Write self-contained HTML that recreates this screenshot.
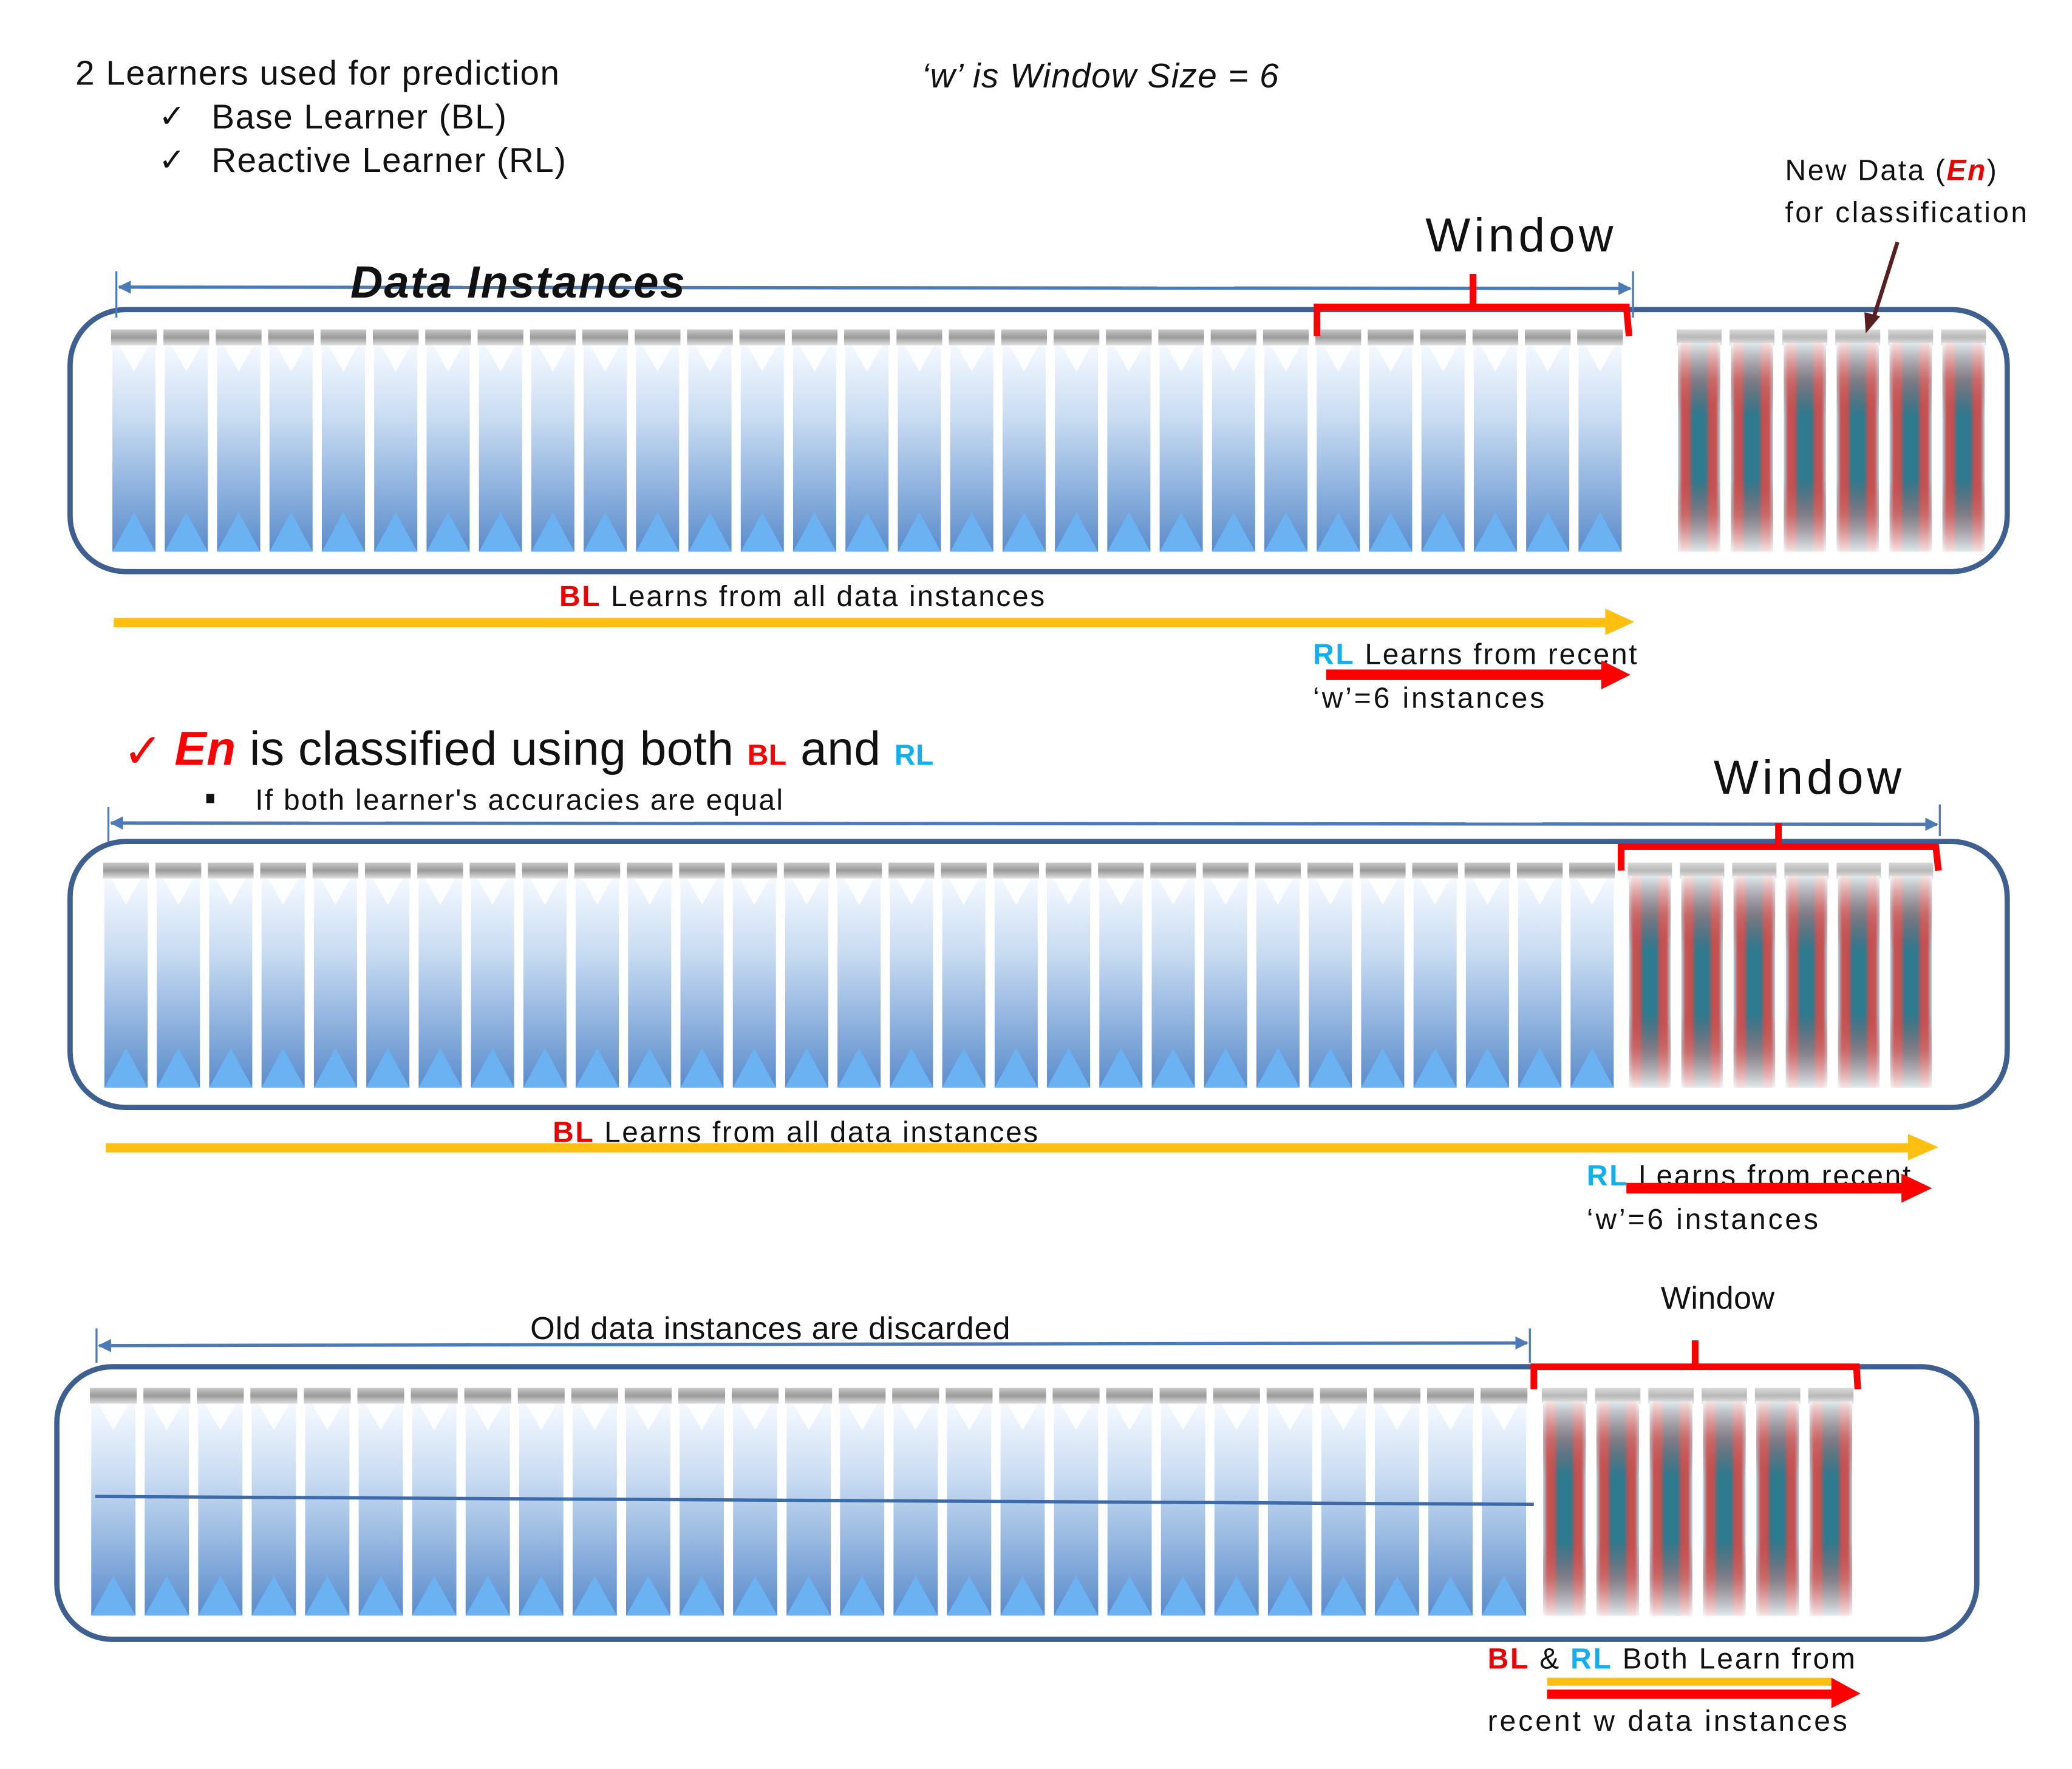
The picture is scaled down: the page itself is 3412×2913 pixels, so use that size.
<!DOCTYPE html>
<html><head><meta charset="utf-8"><style>
html,body{margin:0;padding:0;background:#fff;}
svg{display:block;}
text{font-family:"Liberation Sans",sans-serif;}
</style></head><body>
<svg id="s" xmlns="http://www.w3.org/2000/svg" width="3412" height="2913" viewBox="0 0 1567 1337" preserveAspectRatio="none">
<defs>
<linearGradient id="gb" x1="0" y1="0" x2="0" y2="1">
<stop offset="0" stop-color="#f4f9ff"/><stop offset="0.35" stop-color="#c9dcf2"/><stop offset="1" stop-color="#5a8ccc"/></linearGradient>
<linearGradient id="gs" x1="0" y1="0" x2="0" y2="1">
<stop offset="0" stop-color="#c8c8c8"/><stop offset="0.5" stop-color="#9a9a9a"/><stop offset="1" stop-color="#e0e0e0"/></linearGradient>
<linearGradient id="gr" x1="0" y1="0" x2="1" y2="0">
<stop offset="0" stop-color="#a8dce8"/><stop offset="0.1" stop-color="#c85252"/><stop offset="0.25" stop-color="#c05050"/><stop offset="0.35" stop-color="#2e7a8e"/><stop offset="0.65" stop-color="#2e7a8e"/><stop offset="0.75" stop-color="#c05050"/><stop offset="0.9" stop-color="#c85252"/><stop offset="1" stop-color="#a8dce8"/></linearGradient>
<linearGradient id="gf" x1="0" y1="0" x2="0" y2="1">
<stop offset="0" stop-color="#fff" stop-opacity="0.85"/><stop offset="0.18" stop-color="#d08080" stop-opacity="0.5"/><stop offset="0.35" stop-color="#c85050" stop-opacity="0"/><stop offset="0.65" stop-color="#c85050" stop-opacity="0"/><stop offset="0.82" stop-color="#d08080" stop-opacity="0.5"/><stop offset="1" stop-color="#fff" stop-opacity="0.85"/></linearGradient>
<marker id="ab" markerWidth="10" markerHeight="10" refX="9" refY="5" orient="auto" markerUnits="userSpaceOnUse"><path d="M0,0 L10,5 L0,10 z" fill="#4a7ab8"/></marker>
<marker id="abs" markerWidth="10" markerHeight="10" refX="1" refY="5" orient="auto" markerUnits="userSpaceOnUse"><path d="M10,0 L0,5 L10,10 z" fill="#4a7ab8"/></marker>
</defs>
<g id="bars"></g>

<text x="57" y="64" font-size="26" fill="#111" textLength="366">2 Learners used for prediction</text>
<text x="120" y="96" font-size="24" fill="#111">✓</text>
<text x="160" y="97" font-size="26" fill="#111" textLength="223">Base Learner (BL)</text>
<text x="120" y="129" font-size="24" fill="#111">✓</text>
<text x="160" y="130" font-size="26" fill="#111" textLength="268">Reactive Learner (RL)</text>
<text x="697" y="66" font-size="26" font-style="italic" fill="#111" textLength="270">‘w’ is Window Size = 6</text>

<rect x="53" y="234" width="1465" height="198" rx="42" fill="none" stroke="#3d6090" stroke-width="4"/>
<line x1="88" y1="205" x2="88" y2="240" stroke="#4a7ab8" stroke-width="1.5"/>
<line x1="1235" y1="205" x2="1235" y2="240" stroke="#4a7ab8" stroke-width="1.5"/>
<line x1="90" y1="217" x2="1233" y2="218" stroke="#4a7ab8" stroke-width="2.5" marker-end="url(#ab)" marker-start="url(#abs)"/>
<text x="265" y="225" font-size="34" font-weight="bold" font-style="italic" fill="#111" textLength="253">Data Instances</text>
<text x="1078" y="190" font-size="36" fill="#111" textLength="142">Window</text>
<path d="M996,254 L996,232 L1230,232 L1232,254 M1114,232 L1114,207" fill="none" stroke="#f00" stroke-width="5"/>
<text x="1350" y="136" font-size="22" fill="#111" textLength="160">New Data (<tspan fill="#e00" font-weight="bold" font-style="italic">En</tspan>)</text>
<text x="1350" y="168" font-size="22" fill="#111" textLength="183">for classification</text>
<line x1="1435" y1="183" x2="1417" y2="240" stroke="#5a1e1e" stroke-width="3"/>
<path d="M1411,252 L1410,236 L1422,239 z" fill="#5a1e1e"/>
<text x="423" y="458" font-size="22" fill="#111" textLength="367"><tspan fill="#e00" font-weight="bold">BL</tspan> Learns from all data instances</text>
<rect x="86" y="467" width="1130" height="7" fill="#fdc010"/>
<path d="M1214,460 L1236,470 L1214,480 z" fill="#fdc010"/>
<text x="993" y="502" font-size="22" fill="#111" textLength="245"><tspan fill="#10b0f0" font-weight="bold">RL</tspan> Learns from recent</text>
<rect x="1003" y="506" width="210" height="8" fill="#f00"/>
<path d="M1211,499 L1233,510 L1211,521 z" fill="#f00"/>
<text x="993" y="535" font-size="22" fill="#111" textLength="175">‘w’=6 instances</text>

<text x="93" y="580" font-size="36" fill="#f00">✓</text>
<text x="132" y="578" font-size="36" fill="#111" textLength="574"><tspan fill="#f00" font-weight="bold" font-style="italic">En</tspan> is classified using both <tspan fill="#f00" font-weight="bold" font-size="22">BL</tspan> and <tspan fill="#10b0f0" font-weight="bold" font-size="22">RL</tspan></text>
<rect x="156" y="600" width="6" height="7" fill="#111"/>
<text x="193" y="612" font-size="22" fill="#111" textLength="399">If both learner's accuracies are equal</text>

<text x="1296" y="600" font-size="36" fill="#111" textLength="142">Window</text>
<line x1="82" y1="610" x2="82" y2="636" stroke="#4a7ab8" stroke-width="1.5"/>
<line x1="1467" y1="608" x2="1467" y2="632" stroke="#4a7ab8" stroke-width="1.5"/>
<line x1="84" y1="622" x2="1465" y2="623" stroke="#4a7ab8" stroke-width="2.5" marker-end="url(#ab)" marker-start="url(#abs)"/>
<rect x="53" y="636" width="1465" height="201" rx="42" fill="none" stroke="#3d6090" stroke-width="4"/>
<path d="M1226,658 L1226,640 L1464,640 L1466,658 M1345,640 L1345,622" fill="none" stroke="#f00" stroke-width="5"/>
<text x="418" y="863" font-size="22" fill="#111" textLength="367"><tspan fill="#e00" font-weight="bold">BL</tspan> Learns from all data instances</text>
<rect x="80" y="864" width="1365" height="7" fill="#fdc010"/>
<path d="M1443,857 L1466,867 L1443,877 z" fill="#fdc010"/>
<text x="1200" y="896" font-size="22" fill="#111" textLength="245"><tspan fill="#10b0f0" font-weight="bold">RL</tspan> Learns from recent</text>
<rect x="1230" y="894" width="210" height="8" fill="#f00"/>
<path d="M1438,887 L1461,898 L1438,909 z" fill="#f00"/>
<text x="1200" y="929" font-size="22" fill="#111" textLength="175">‘w’=6 instances</text>

<text x="1256" y="989" font-size="24" fill="#111" textLength="86">Window</text>
<text x="401" y="1012" font-size="24" fill="#111" textLength="363">Old data instances are discarded</text>
<line x1="73" y1="1004" x2="73" y2="1030" stroke="#4a7ab8" stroke-width="1.5"/>
<line x1="1157" y1="1004" x2="1157" y2="1030" stroke="#4a7ab8" stroke-width="1.5"/>
<line x1="75" y1="1017" x2="1155" y2="1015" stroke="#4a7ab8" stroke-width="2.5" marker-end="url(#ab)" marker-start="url(#abs)"/>
<rect x="43" y="1033" width="1452" height="206" rx="42" fill="none" stroke="#3d6090" stroke-width="4"/>
<path d="M1160,1050 L1160,1033 L1404,1033 L1405,1050 M1282,1033 L1282,1013" fill="none" stroke="#f00" stroke-width="5"/>
<text x="1125" y="1261" font-size="22" fill="#111" textLength="278"><tspan fill="#e00" font-weight="bold">BL</tspan> &amp; <tspan fill="#10b0f0" font-weight="bold">RL</tspan> Both Learn from</text>
<rect x="1170" y="1268" width="215" height="6" fill="#fdc010"/>
<rect x="1170" y="1277" width="218" height="7" fill="#f00"/>
<path d="M1385,1268 L1407,1280 L1385,1291 z" fill="#f00"/>
<text x="1125" y="1308" font-size="22" fill="#111" textLength="272">recent w data instances</text>
</svg>
<script>
var NS="http://www.w3.org/2000/svg",g=document.getElementById('bars');
function el(n,a){var e=document.createElementNS(NS,n);for(var k in a)e.setAttribute(k,a[k]);g.appendChild(e);return e;}
function blue(x,y,w,h){
 el('rect',{x:x,y:y,width:w,height:12,fill:'url(#gs)'});
 el('rect',{x:x+1,y:y+12,width:w-2,height:h-12,fill:'url(#gb)'});
 el('path',{d:'M'+(x+6)+','+(y+12)+' L'+(x+w/2)+','+(y+32)+' L'+(x+w-6)+','+(y+12)+'z',fill:'#fff',opacity:0.85});
 el('path',{d:'M'+(x+1)+','+(y+h)+' L'+(x+w/2)+','+(y+h-30)+' L'+(x+w-1)+','+(y+h)+'z',fill:'#6ab2f2'});
}
function red(x,y,w,h){
 el('rect',{x:x,y:y,width:w,height:12,fill:'url(#gs)',opacity:0.7});
 el('rect',{x:x+1,y:y+10,width:w-2,height:h-10,fill:'url(#gr)'});
 el('rect',{x:x+1,y:y+10,width:w-2,height:h-10,fill:'url(#gf)'});
}
function row(x0,n,step,y,h){for(var i=0;i<n;i++)blue(x0+i*step,y,step-5,h);}
function rrow(x0,n,step,y,h){for(var i=0;i<n;i++)red(x0+i*step,y,step-6,h);}
row(84,29,39.6,249,168); rrow(1268,6,40,249,168);
row(78,29,39.6,652,170); rrow(1231,6,39.5,652,170);
row(68,27,40.45,1049,172); rrow(1166,6,40.3,1049,172);
el('line',{x1:72,y1:1131,x2:1160,y2:1137,stroke:'#3d6aa8','stroke-width':2.5});
</script>
</body></html>
